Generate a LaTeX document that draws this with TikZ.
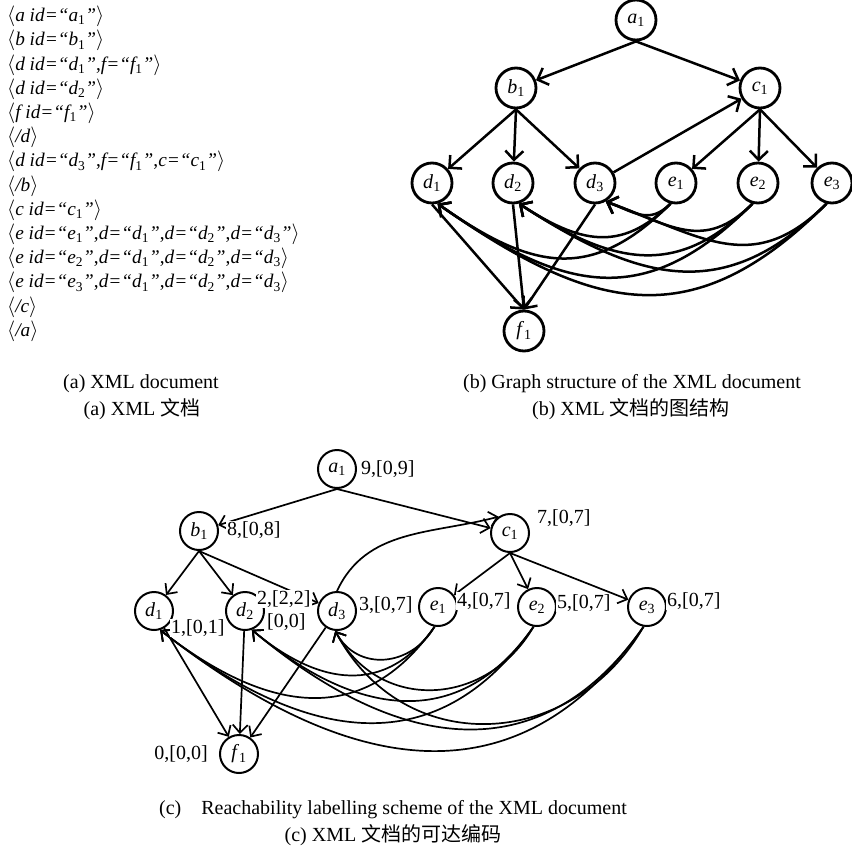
\documentclass[tikz,border=0pt]{standalone}
\usepackage{fontspec}
\setmainfont{Liberation Serif}
\newfontfamily\cjk{Noto Sans CJK SC}
\usepackage{tikz}
\usetikzlibrary{arrows.meta}
\newcommand{\nd}[2]{\textit{#1}\textsubscript{#2}}
\newcommand{\tg}[1]{$\langle${\itshape #1}$\rangle$}
\newcommand{\sbn}[1]{\textsubscript{\upshape #1}}

\begin{document}
\begin{tikzpicture}[
  x=1pt, y=1pt,
  font=\fontsize{20}{24}\selectfont,
  N/.style={circle, draw=black, line width=2.8pt, fill=white,
            minimum size=40pt, inner sep=0pt},
  Nc/.style={N, line width=2pt, minimum size=38pt},
  arr/.style={-{Straight Barb[length=9pt, width=18pt]}, line width=2.5pt},
  arrc/.style={-{Straight Barb[length=8pt, width=15pt]}, line width=1.7pt},
  lbl/.style={fill=white, inner sep=1pt, anchor=west},
  captxt/.style={inner sep=0pt}
]
\useasboundingbox (0,0) rectangle (852,-849);
% (a) XML document
\node[anchor=north west, inner sep=0pt, align=left,
      font=\fontsize{19.3}{24.2}\selectfont] (xmldoc) at (7,-6) {%
  \tg{a id=“a\sbn{1}”}\\
  \tg{b id=“b\sbn{1}”}\\
  \tg{d id=“d\sbn{1}”{\upshape,}f=“f\sbn{1}”}\\
  \tg{d id=“d\sbn{2}”}\\
  \tg{f id=“f\sbn{1}”}\\
  \tg{/d}\\
  \tg{d id=“d\sbn{3}”{\upshape,}f=“f\sbn{1}”{\upshape,}c=“c\sbn{1}”}\\
  \tg{/b}\\
  \tg{c id=“c\sbn{1}”}\\
  \tg{e id=“e\sbn{1}”{\upshape,}d=“d\sbn{1}”{\upshape,}d=“d\sbn{2}”{\upshape,}d=“d\sbn{3}”}\\
  \tg{e id=“e\sbn{2}”{\upshape,}d=“d\sbn{1}”{\upshape,}d=“d\sbn{2}”{\upshape,}d=“d\sbn{3}}\\
  \tg{e id=“e\sbn{3}”{\upshape,}d=“d\sbn{1}”{\upshape,}d=“d\sbn{2}”{\upshape,}d=“d\sbn{3}}\\
  \tg{/c}\\
  \tg{/a}};
\node[captxt] (capa) at (141,-384) {(a) XML document};
\node[captxt] (capacn) at (142,-409) {(a) XML {\cjk 文档}};

% (b) graph structure
\node[N] (ba) at (636,-20) {\nd{a}{1}};
\node[N] (bb) at (516,-88) {\nd{b}{1}};
\node[N] (bc) at (760,-88) {\nd{c}{1}};
\node[N] (bd1) at (432,-183) {\nd{d}{1}};
\node[N] (bd2) at (513,-183) {\nd{d}{2}};
\node[N] (bd3) at (595,-183) {\nd{d}{3}};
\node[N] (be1) at (676,-183) {\nd{e}{1}};
\node[N] (be2) at (758,-183) {\nd{e}{2}};
\node[N] (be3) at (832,-183) {\nd{e}{3}};
\node[N] (bf) at (524,-331) {\nd{f}{1}};
\draw[arr] (ba.south) -- (bb);
\draw[arr] (ba.south) -- (bc);
\foreach \t in {bd1,bd2,bd3} \draw[arr] (bb.south) -- (\t);
\foreach \t in {be1,be2,be3} \draw[arr] (bc.south) -- (\t);
\draw[arr] (bd3) -- (bc);
\foreach \s in {bd1,bd2,bd3} \draw[arr] (\s.south) -- (bf.north);
% e -> d (b)
\foreach \s in {be1,be2,be3} {
  \draw[arr] (\s.-105) to[out=-135, in=-35, looseness=1.25] (bd1.-75);
  \draw[arr] (\s.-105) to[out=-135, in=-33, looseness=1.2] (bd2.-74);
  \draw[arr] (\s.-105) to[out=-135, in=-20, looseness=1.2] (bd3.-60);
}
\node[captxt] (capb) at (632,-384) {(b) Graph structure of the XML document};
\node[captxt] (capbcn) at (631,-409) {(b) XML {\cjk 文档的图结构}};

% (c) reachability labelling
\node[Nc] (ca) at (337,-469) {\nd{a}{1}};
\node[Nc] (cb) at (199,-531) {\nd{b}{1}};
\node[Nc] (cc) at (510,-533) {\nd{c}{1}};
\node[Nc] (cd1) at (154,-611) {\nd{d}{1}};
\node[Nc] (cd2) at (245,-611) {\nd{d}{2}};
\node[Nc] (cd3) at (337,-611) {\nd{d}{3}};
\node[Nc] (ce1) at (438,-607) {\nd{e}{1}};
\node[Nc] (ce2) at (537,-607) {\nd{e}{2}};
\node[Nc] (ce3) at (647,-607) {\nd{e}{3}};
\node[Nc] (cf) at (239,-754) {\nd{f}{1}};
\draw[arrc] (ca.south) -- (cb);
\draw[arrc] (ca.south) -- (cc);
\foreach \t in {cd1,cd2,cd3} \draw[arrc] (cb.south) -- (\t);
\foreach \t in {ce1,ce2,ce3} \draw[arrc] (cc.south) -- (\t);
\draw[arrc] (cd3.north) to[out=65, in=195] (cc.125);
\foreach \s in {cd1,cd2,cd3} \draw[arrc] (\s) -- (cf);
% e -> d (c)
\foreach \s in {ce1,ce2,ce3} {
  \draw[arrc] (\s.-100) to[out=-125, in=-38, looseness=1.2] (cd1.-72);
  \draw[arrc] (\s.-100) to[out=-125, in=-40, looseness=1.2] (cd2.-70);
  \draw[arrc] (\s.-100) to[out=-120, in=-62, looseness=1.2] (cd3.-95);
}
% labels
\node[lbl] (la) at (360,-469) {9,[0,9]};
\node[lbl] (lb) at (226,-530) {8,[0,8]};
\node[lbl] (lc) at (536,-518) {7,[0,7]};
\node[lbl] (ld1) at (170,-628) {1,[0,1]};
\node[lbl] (ld2) at (256,-599) {2,[2,2]};
\node[lbl] (ld2b) at (266,-622) {[0,0]};
\node[lbl] (ld3) at (358,-605) {3,[0,7]};
\node[lbl] (le1) at (456,-601) {4,[0,7]};
\node[lbl] (le2) at (556,-603) {5,[0,7]};
\node[lbl] (le3) at (666,-601) {6,[0,7]};
\node[lbl, anchor=east] (lf) at (209,-754) {0,[0,0]};
\node[captxt] (capc) at (393,-810) {(c)\quad Reachability labelling scheme of the XML document};
\node[captxt] (capccn) at (393,-835) {(c) XML {\cjk 文档的可达编码}};
\end{tikzpicture}
\end{document}
